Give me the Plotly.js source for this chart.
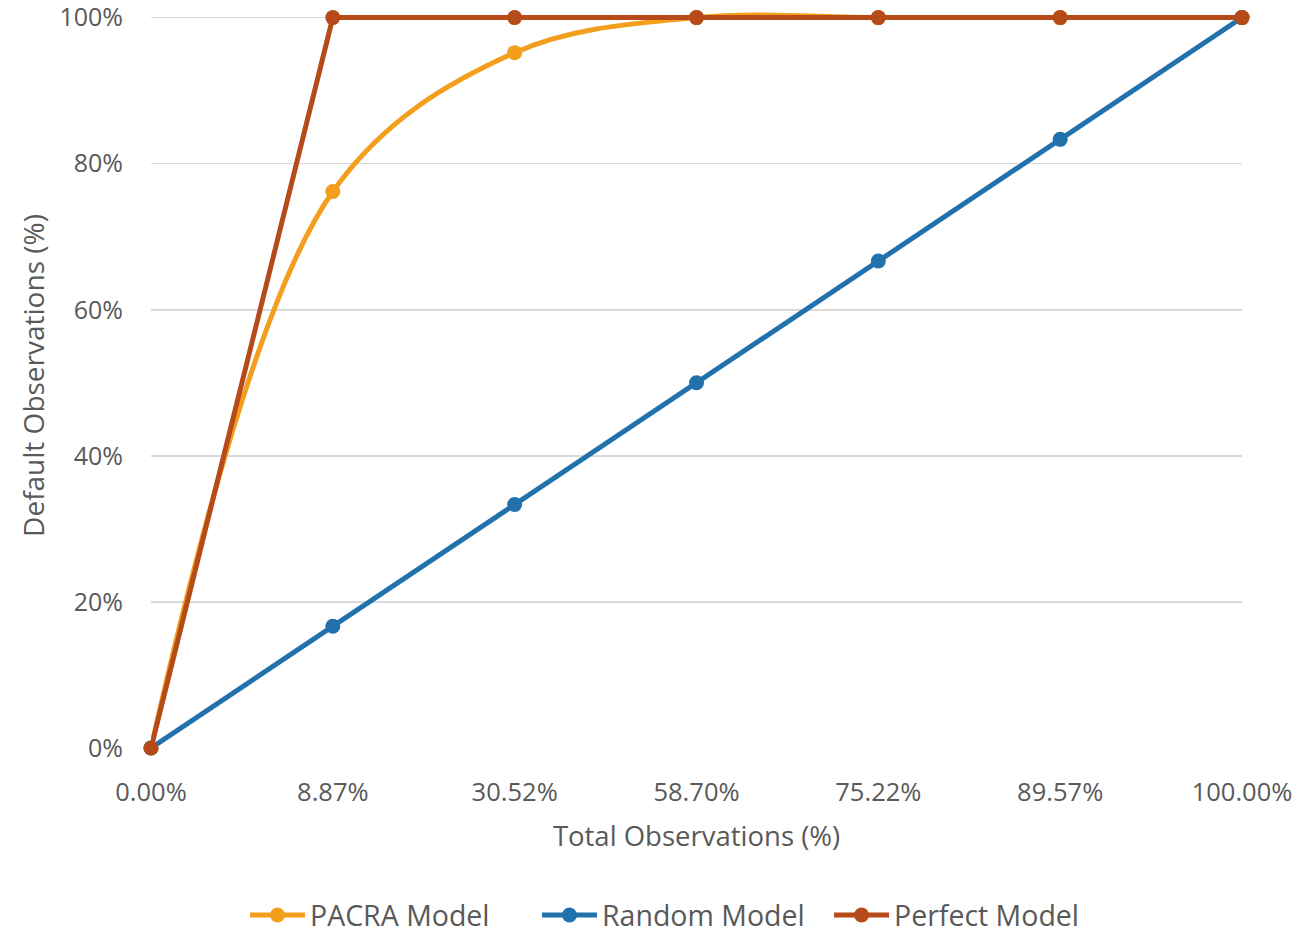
<!DOCTYPE html>
<html>
<head>
<meta charset="utf-8">
<script src="https://cdn.plot.ly/plotly-3.0.1.min.js"></script>
<style>html,body{margin:0;padding:0;background:#fff;}#chart{width:1306px;height:941px;}</style>
</head>
<body>
<div id="chart"></div>
<script>
var categories = ["0.00%", "8.87%", "30.52%", "58.70%", "75.22%", "89.57%", "100.00%"];
var pacraValues = [0, 76.2, 95.2, 100, 100, 100, 100];
var randomValues = [0, 16.67, 33.33, 50, 66.67, 83.33, 100];
var perfectValues = [0, 100, 100, 100, 100, 100, 100];
var yTickVals = [0, 20, 40, 60, 80, 100];
var yTickText = ["0%", "20%", "40%", "60%", "80%", "100%"];

var fontFam = "'Open Sans', 'Noto Sans', sans-serif";
var textColor = "#595959";

function trace(name, vals, color, smooth) {
  return {
    type: "scatter",
    mode: "lines+markers",
    name: name,
    x: categories,
    y: vals,
    line: {color: color, width: 5, shape: smooth ? "spline" : "linear", smoothing: 1},
    marker: {color: color, size: 15},
    cliponaxis: false
  };
}

var data = [
  trace("PACRA Model", pacraValues, "#F39F1D", true),
  trace("Random Model", randomValues, "#2171AD", false),
  trace("Perfect Model", perfectValues, "#B64A18", false)
];

var layout = {
  width: 1306,
  height: 941,
  margin: {l: 151, r: 64, t: 3.4, b: 193},
  paper_bgcolor: "#fff",
  plot_bgcolor: "#fff",
  font: {family: fontFam, color: textColor, size: 25},
  showlegend: true,
  legend: {
    orientation: "h",
    xref: "container", yref: "container",
    x: 245 / 1306, xanchor: "left",
    y: -0.012, yanchor: "bottom",
    font: {size: 28.5, color: textColor},
    itemwidth: 55,
    entrywidth: 222,
    entrywidthmode: "pixels"
  },
  xaxis: {
    type: "category",
    range: [0, 6],
    showgrid: false,
    zeroline: false,
    showline: false,
    ticks: "outside",
    ticklen: 21,
    tickcolor: "rgba(0,0,0,0)",
    tickfont: {size: 25.5, color: textColor},
    title: {text: "Total Observations (%)", font: {size: 27.5, color: textColor}, standoff: 20}
  },
  yaxis: {
    range: [0, 102],
    tickvals: yTickVals,
    ticktext: yTickText,
    showgrid: true,
    gridcolor: "#D9D9D9",
    gridwidth: 1.5,
    zeroline: false,
    showline: false,
    ticks: "outside",
    ticklen: 22,
    tickcolor: "rgba(0,0,0,0)",
    ticklabeloverflow: "allow",
    tickfont: {size: 25, color: textColor},
    title: {text: "Default Observations (%)", font: {size: 28, color: textColor}, standoff: 6}
  }
};

Plotly.newPlot("chart", data, layout, {displayModeBar: false, staticPlot: true});
</script>
</body>
</html>
